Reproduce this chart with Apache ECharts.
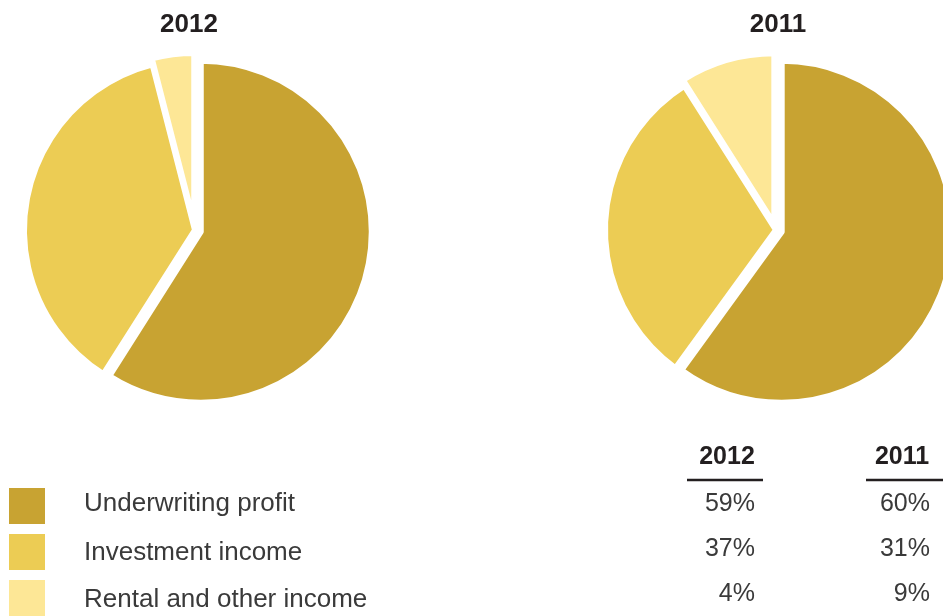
<!DOCTYPE html>
<html>
<head>
<meta charset="utf-8">
<script src="https://cdn.jsdelivr.net/npm/echarts@6/dist/echarts.min.js"></script>
<style>
  html, body { margin: 0; padding: 0; background: #fff; }
  #chart { width: 943px; height: 616px; }
</style>
</head>
<body>
<div id="chart"></div>
<script>
// Income mix by source, two years side by side
const categories = ['Underwriting profit', 'Investment income', 'Rental and other income'];
const years = ['2012', '2011'];
const share2012 = [59, 37, 4];
const share2011 = [60, 31, 9];
const colors = ['#C8A332', '#ECCC54', '#FDE796'];
// slices pulled out of each pie
const pulledOut = [true, false, true];

const chart = echarts.init(document.getElementById('chart'), null, { renderer: 'canvas' });

const FONT = '"Liberation Sans", Arial, Helvetica, sans-serif';
const INK = '#231f20';
const GREY = '#3a3a3a';

function pieSeries(name, values, cx) {
  return {
    name: name,
    type: 'pie',
    center: [cx, 230],
    radius: 171,
    startAngle: 90,
    clockwise: true,
    selectedMode: 'multiple',
    selectedOffset: 6,
    label: { show: false },
    labelLine: { show: false },
    emphasis: { disabled: true },
    itemStyle: { borderColor: '#ffffff', borderWidth: 6, borderJoin: 'round' },
    data: categories.map((c, i) => ({
      name: c,
      value: values[i],
      selected: pulledOut[i],
      itemStyle: { color: colors[i] }
    }))
  };
}

const graphics = [];

// Year headings above each pie
[[189, years[0]], [778, years[1]]].forEach(([x, t]) => {
  graphics.push({ type: 'text', x: x, y: 25, silent: true,
    style: { text: t, font: 'bold 26px ' + FONT, fill: INK, textAlign: 'center', textVerticalAlign: 'middle' } });
});

// Key: colour swatches with category names
const keyRowY = [506, 552, 598];
const keyTextY = [504, 553, 600];
categories.forEach((c, i) => {
  graphics.push({ type: 'rect', silent: true, shape: { x: 9, y: keyRowY[i] - 18, width: 36, height: 36 }, style: { fill: colors[i] } });
  graphics.push({ type: 'text', x: 84, y: keyTextY[i], silent: true,
    style: { text: c, font: '26px ' + FONT, fill: GREY, textAlign: 'left', textVerticalAlign: 'middle' } });
});

// Percentage table: column heads, rules and values
const cols = [
  { head: 727, ruleL: 687, ruleR: 763, right: 755, values: share2012 },
  { head: 902, ruleL: 866, ruleR: 943, right: 930, values: share2011 }
];
const valueY = [504, 549, 594];
cols.forEach((c, k) => {
  graphics.push({ type: 'text', x: c.head, y: 457, silent: true,
    style: { text: years[k], font: 'bold 25px ' + FONT, fill: INK, textAlign: 'center', textVerticalAlign: 'middle' } });
  graphics.push({ type: 'line', silent: true, shape: { x1: c.ruleL, y1: 480, x2: c.ruleR, y2: 480 }, style: { stroke: INK, lineWidth: 2.5 } });
  c.values.forEach((v, i) => {
    graphics.push({ type: 'text', x: c.right, y: valueY[i], silent: true,
      style: { text: v + '%', font: '25px ' + FONT, fill: GREY, textAlign: 'right', textVerticalAlign: 'middle' } });
  });
});

chart.setOption({
  animation: false,
  backgroundColor: '#ffffff',
  graphic: graphics,
  series: [pieSeries(years[0], share2012, 195), pieSeries(years[1], share2011, 776)]
});
</script>
</body>
</html>
